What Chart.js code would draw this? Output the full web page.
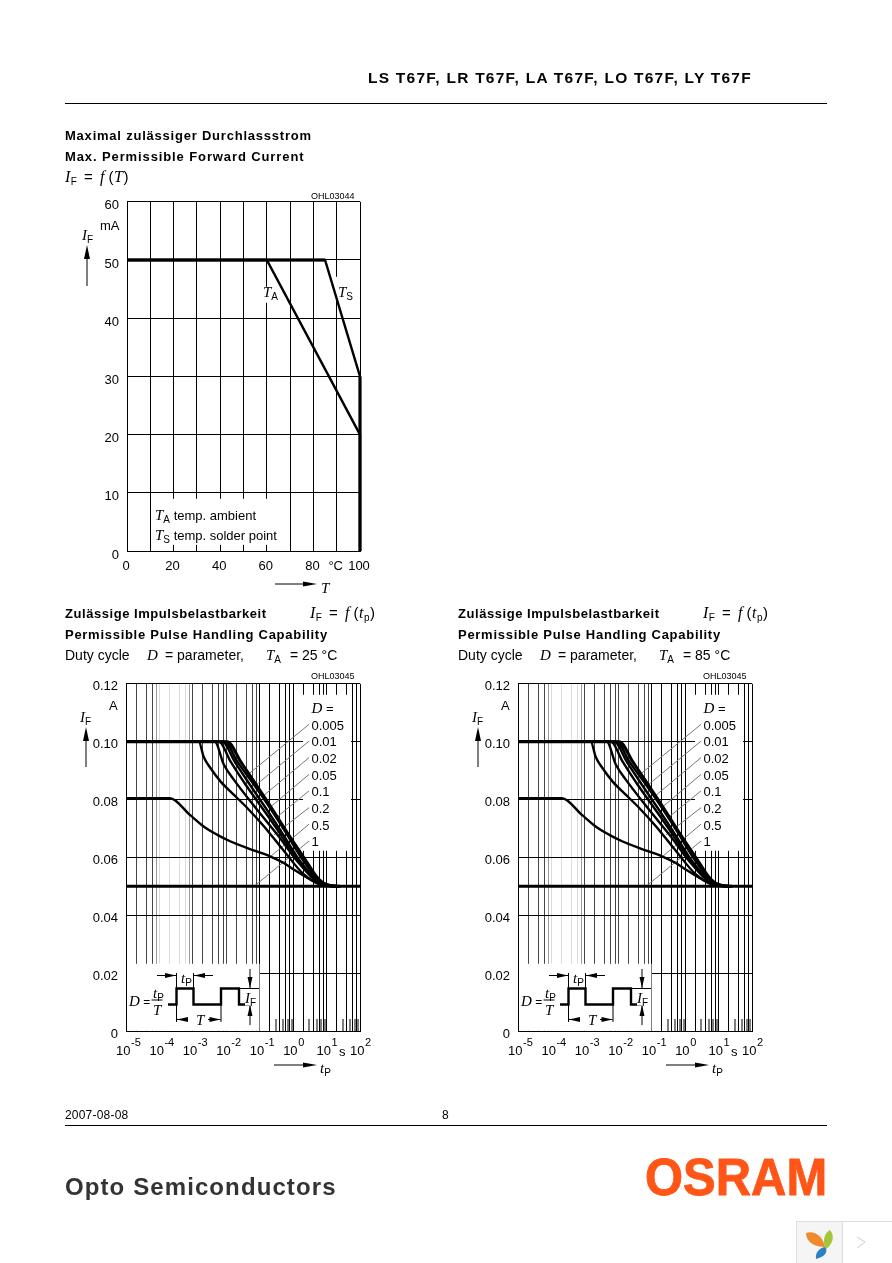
<!DOCTYPE html>
<html>
<head>
<meta charset="utf-8">
<title>LS T67F</title>
<script src="https://cdn.jsdelivr.net/npm/chart.js@4/dist/chart.umd.min.js"></script>
<style>
  html, body { margin: 0; padding: 0; background: #fff; }
  body { position: relative; width: 892px; height: 1263px; overflow: hidden; font-family: "Liberation Sans", Arial, sans-serif; color: #000; }
  canvas, #marks { position: absolute; }
  #marks { left: 0; top: 0; }
  .t { position: absolute; white-space: nowrap; line-height: 1; transform: translateY(-50%); font-size: 13px; }
  .b { font-weight: bold; }
  .t i { font-family: "Liberation Serif", serif; font-style: italic; font-size: 15px; }
  .t sub { font-size: 10px; line-height: 0; vertical-align: -3px; }
  .eq { word-spacing: 2px; letter-spacing: .5px; font-size: 15px; }
  .eq i { font-size: 16px; }
</style>
</head>
<body>
<canvas id="chart-temp" width="285" height="394" style="left:95px;top:186px"></canvas>
<canvas id="chart-pulse-25" width="292" height="396" style="left:88px;top:668px"></canvas>
<canvas id="chart-pulse-85" width="292" height="396" style="left:480px;top:668px"></canvas>
<svg id="marks" width="892" height="1263"></svg>

<script>
'use strict';

/* Forward current vs temperature */
const tempTicks = [0, 10, 20, 30, 40, 50, 60, 70, 80, 90, 100];
const tempTickLabels = ['0', '', '20', '', '40', '', '60', '', '80', '°C', '100'];
const currentTicks = [0, 10, 20, 30, 40, 50, 60];
const ambientT = [0, 60, 100, 100];
const ambientI = [50, 50, 20, 0];
const solderT = [0, 85, 100, 100];
const solderI = [50, 50, 30, 0];
const flatT = [0, 85];
const flatI = [50, 50];
const edgeT = [100, 100];
const edgeI = [30, 0];

/* Pulse handling: grid and ticks */
const pulseDecades = [1e-5, 1e-4, 1e-3, 1e-2, 1e-1, 1, 10, 100];
const pulseExponents = ['-5', '-4', '-3', '-2', '-1', '0', '1', '2'];
const pulseGridTimes = [
  1e-5, 2e-5, 4e-5, 6e-5, 8e-5, 1e-4, 2e-4, 4e-4, 6e-4, 8e-4,
  1e-3, 2e-3, 4e-3, 6e-3, 8e-3, 1e-2, 2e-2, 4e-2, 6e-2, 8e-2,
  1e-1, 2e-1, 4e-1, 6e-1, 8e-1, 1, 2, 4, 6, 8, 10, 20, 40, 60, 80, 100
];
const pulseOddTimes = [3e-1, 5e-1, 7e-1, 9e-1, 3, 5, 7, 9, 30, 50, 70, 90];
const pulseTicks = [0, 0.02, 0.04, 0.06, 0.08, 0.10, 0.12];
const pulseTickLabels = ['0', '0.02', '0.04', '0.06', '0.08', '0.10', '0.12'];

/* Pulse handling: one curve per duty cycle */
const d005T = [1e-5, 0.0107, 0.027, 0.068, 0.17, 0.68, 2.14, 6.0, 13.5, 25];
const d005I = [0.1, 0.1, 0.0931, 0.0862, 0.0793, 0.0684, 0.0598, 0.0523, 0.0502, 0.05];
const d01T = [1e-5, 0.0089, 0.0214, 0.0575, 0.151, 0.575, 1.78, 5.6, 11.2, 25];
const d01I = [0.1, 0.1, 0.0931, 0.0862, 0.0793, 0.069, 0.0598, 0.0523, 0.0503, 0.05];
const d02T = [1e-5, 0.0076, 0.0178, 0.051, 0.141, 0.51, 1.51, 5.1, 10.7, 25];
const d02I = [0.1, 0.1, 0.0931, 0.0851, 0.0776, 0.0678, 0.0592, 0.0523, 0.0503, 0.05];
const d05T = [1e-5, 0.006, 0.0135, 0.038, 0.12, 0.43, 1.2, 4.47, 9.5, 25];
const d05I = [0.1, 0.1, 0.0931, 0.0851, 0.077, 0.0678, 0.0598, 0.0529, 0.0506, 0.05];
const d1T = [1e-5, 0.0045, 0.0085, 0.017, 0.085, 0.34, 1.35, 4.3, 8.5, 25];
const d1I = [0.1, 0.1, 0.092, 0.0868, 0.0764, 0.0678, 0.0586, 0.0523, 0.0506, 0.05];
const d2T = [1e-5, 0.0015, 0.0021, 0.0034, 0.0068, 0.017, 0.043, 0.135, 0.54, 2.14, 6.8, 16];
const d2I = [0.1, 0.1, 0.0948, 0.0908, 0.0862, 0.0816, 0.077, 0.0707, 0.0621, 0.054, 0.0506, 0.05];
const d5T = [1e-5, 0.0002, 0.00085, 0.0021, 0.0054, 0.0135, 0.043, 0.21, 0.54, 1.07, 2.7, 6, 10.7, 27];
const d5I = [0.0805, 0.0805, 0.0745, 0.0707, 0.0678, 0.0655, 0.0632, 0.0603, 0.058, 0.0557, 0.0529, 0.0508, 0.0502, 0.05];
const dFullT = [1e-5, 100];
const dFullI = [0.05, 0.05];

/* Thin leaders from the curves to the D labels */
const leaderT = [[0.043, 3], [0.068, 3], [0.12, 3], [0.19, 3], [0.30, 3], [0.27, 3], [0.21, 3], [0.068, 3]];
const leaderI = [[0.0885, 0.106], [0.0845, 0.1002], [0.081, 0.0945], [0.077, 0.0887], [0.0736, 0.083], [0.0678, 0.0772], [0.0603, 0.0715], [0.05, 0.0657]];
const dutyLabels = ['0.005', '0.01', '0.02', '0.05', '0.1', '0.2', '0.5', '1'];

function zip(xs, ys) {
  return xs.map((x, i) => ({ x: x, y: ys[i] }));
}

function lineSet(xs, ys, width, extra) {
  return Object.assign({
    data: zip(xs, ys), borderColor: '#000', borderWidth: width,
    pointRadius: 0, fill: false, clip: false, tension: 0, order: 1
  }, extra || {});
}

/* white areas behind the notes, then the short ticks; both sit under the curves */
const notesPlugin = {
  id: 'notes',
  beforeDatasetsDraw(chart, args, opts) {
    const c = chart.ctx, a = chart.chartArea;
    c.save();
    c.fillStyle = '#fff';
    (opts.masks || []).forEach(m => {
      c.fillRect(a.left + m[0], a.top + m[1], m[2], m[3]);
    });
    c.fillStyle = '#000';
    (opts.stubs || []).forEach(v => {
      const x = Math.round(chart.scales.x.getPixelForValue(v)) - 0.5;
      c.fillRect(x, a.bottom - 12, 1, 12);
    });
    c.restore();
  },
  afterDraw(chart, args, opts) {
    if (!opts.decades) return;
    const c = chart.ctx, a = chart.chartArea;
    c.save();
    c.fillStyle = '#000';
    c.textAlign = 'left';
    c.textBaseline = 'alphabetic';
    opts.decades.forEach((v, i) => {
      const x = chart.scales.x.getPixelForValue(v) - 10;
      c.font = '13px "Liberation Sans"';
      c.fillText('10', x, a.bottom + 24);
      c.font = '11px "Liberation Sans"';
      c.fillText(pulseExponents[i], x + 15, a.bottom + 15);
    });
    c.restore();
  }
};
Chart.register(notesPlugin);

const tickFont = { family: '"Liberation Sans"', size: 13 };

function baseOptions(right, top) {
  return {
    responsive: false,
    animation: false,
    devicePixelRatio: 1,
    layout: { padding: { right: right, top: top, left: 0, bottom: 0 } },
    plugins: { legend: { display: false }, tooltip: { enabled: false } }
  };
}

function initTempChart() {
  const opts = baseOptions(20, 11);
  opts.plugins.notes = {
    /* relative to the plot area */
    masks: [[25, 297, 136, 46], [136, 85, 17, 16], [207, 75, 18, 23]]
  };
  opts.scales = {
    x: {
      type: 'linear', min: 0, max: 100,
      afterBuildTicks: s => { s.ticks = tempTicks.map(v => ({ value: v })); },
      afterFit: s => { s.height = 29; },
      grid: { color: '#000', lineWidth: 1, drawTicks: false },
      border: { color: '#000' },
      ticks: {
        color: '#000', font: tickFont, padding: 8, maxRotation: 0, autoSkip: false, labelOffset: -1,
        callback: (v, i) => tempTickLabels[i]
      }
    },
    y: {
      type: 'linear', min: 0, max: 60,
      afterBuildTicks: s => { s.ticks = currentTicks.map(v => ({ value: v })); },
      afterFit: s => { s.width = 32; },
      grid: { color: '#000', lineWidth: 1, drawTicks: false },
      border: { color: '#000' },
      ticks: { color: '#000', font: tickFont, padding: 8, labelOffset: 4, autoSkip: false }
    }
  };
  return new Chart(document.getElementById('chart-temp'), {
    type: 'line',
    data: {
      datasets: [
        lineSet(ambientT, ambientI, 2.4),
        lineSet(solderT, solderI, 2.4),
        lineSet(flatT, flatI, 3),
        lineSet(edgeT, edgeI, 3)
      ]
    },
    options: opts
  });
}

function pulseGridColor(v) {
  if (v >= 0.09) return '#000';
  if (v >= 9e-5 && v < 7e-4) return '#dcdcdc';
  if ((v > 7e-5 && v < 9e-5) || (v > 7e-4 && v < 9e-4)) return '#999';
  return '#444';
}

function initPulseChart(id) {
  const opts = baseOptions(20, 11);
  opts.plugins.notes = {
    masks: [[1, 280, 132.5, 67], [177, 11, 48, 156]],
    stubs: pulseOddTimes,
    decades: pulseDecades
  };
  opts.scales = {
    x: {
      type: 'logarithmic', min: 1e-5, max: 100,
      afterBuildTicks: s => { s.ticks = pulseGridTimes.map(v => ({ value: v })); },
      afterFit: s => { s.height = 33; },
      grid: { color: c => pulseGridColor(c.tick.value), lineWidth: 1, drawTicks: false },
      border: { color: '#000' },
      ticks: { display: false }
    },
    y: {
      type: 'linear', min: 0, max: 0.12,
      afterBuildTicks: s => { s.ticks = pulseTicks.map(v => ({ value: v })); },
      afterFit: s => { s.width = 38; },
      grid: { color: '#000', lineWidth: 1, drawTicks: false },
      border: { color: '#000' },
      ticks: {
        color: '#000', font: tickFont, padding: 8, labelOffset: 3, autoSkip: false,
        callback: (v, i) => pulseTickLabels[i]
      }
    }
  };
  const smooth = { cubicInterpolationMode: 'monotone' };
  const leaders = leaderT.map((t, i) => lineSet(t, leaderI[i], 1, { borderColor: '#777', order: 2 }));
  return new Chart(document.getElementById(id), {
    type: 'line',
    data: {
      datasets: leaders.concat([
        lineSet(d005T, d005I, 3, smooth),
        lineSet(d01T, d01I, 2.4, smooth),
        lineSet(d02T, d02I, 2.4, smooth),
        lineSet(d05T, d05I, 2.4, smooth),
        lineSet(d1T, d1I, 2.4, smooth),
        lineSet(d2T, d2I, 2.4, smooth),
        lineSet(d5T, d5I, 2.4, smooth),
        lineSet(dFullT, dFullI, 3)
      ])
    },
    options: opts
  });
}

/* ---- page text ---- */
function txt(x, y, html, cls, style) {
  const el = document.createElement('div');
  el.className = 't ' + (cls || '');
  el.style.left = x + 'px';
  el.style.top = y + 'px';
  if (style) el.style.cssText += style;
  el.innerHTML = html;
  document.body.appendChild(el);
  return el;
}

const IF = '<i>I</i><sub>F</sub>';

/* ---- arrows and pulse sketch ---- */
let svgParts = '';
function seg(x1, y1, x2, y2, w) {
  svgParts += `<line x1="${x1}" y1="${y1}" x2="${x2}" y2="${y2}" stroke="#000" stroke-width="${w || 1}"/>`;
}
function head(tipX, tipY, dirX, dirY, len, half) {
  const bx = tipX - dirX * len, by = tipY - dirY * len;
  svgParts += `<polygon fill="#000" points="${tipX},${tipY} ${bx - dirY * half},${by - dirX * half} ${bx + dirY * half},${by + dirX * half}"/>`;
}

function pulseSketch(dx) {
  const path = [[168, 1004.5], [176.5, 1004.5], [176.5, 988.5], [193.5, 988.5], [193.5, 1004.5], [221, 1004.5], [221, 988.5], [239, 988.5], [239, 1004.5], [249, 1004.5]];
  svgParts += `<polyline fill="none" stroke="#000" stroke-width="2.4" points="${path.map(p => (p[0] + dx) + ',' + p[1]).join(' ')}"/>`;
  seg(176.5 + dx, 973, 176.5 + dx, 988);
  seg(193.5 + dx, 973, 193.5 + dx, 988);
  seg(157 + dx, 975.5, 176 + dx, 975.5);
  head(176 + dx, 975.5, 1, 0, 11, 2.5);
  seg(193.5 + dx, 975.5, 213 + dx, 975.5);
  head(194 + dx, 975.5, -1, 0, 11, 2.5);
  seg(176.5 + dx, 1004, 176.5 + dx, 1022);
  seg(221 + dx, 1004, 221 + dx, 1022);
  seg(177 + dx, 1019.5, 188 + dx, 1019.5);
  head(177 + dx, 1019.5, -1, 0, 11, 2.5);
  seg(208 + dx, 1019.5, 220.5 + dx, 1019.5);
  head(220.5 + dx, 1019.5, 1, 0, 11, 2.5);
  seg(239 + dx, 988.5, 259 + dx, 988.5);
  seg(250 + dx, 969, 250 + dx, 988);
  head(250 + dx, 988, 0, 1, 11, 2.5);
  seg(250 + dx, 1005, 250 + dx, 1025);
  head(250 + dx, 1005, 0, -1, 11, 2.5);
  seg(151.5 + dx, 1000, 162.5 + dx, 1000);
}

function pulseAxisMarks(dx) {
  seg(86 + dx, 740, 86 + dx, 767);
  head(86 + dx, 727, 0, -1, 14, 3);
  seg(274 + dx, 1065, 305 + dx, 1065);
  head(317 + dx, 1065, 1, 0, 14, 2.5);
  pulseSketch(dx);
}

function pulseText(dx, ta) {
  const h = dx ? 393 : 0;
  txt(65 + h, 613, 'Zulässige Impulsbelastbarkeit', 'b', 'letter-spacing:.55px');
  txt(310 + h, 613, IF + ' = <i>f</i>&thinsp;(<i>t</i><sub>p</sub>)', 'eq');
  txt(65 + h, 634, 'Permissible Pulse Handling Capability', 'b', 'letter-spacing:.72px');
  txt(65 + h, 655, 'Duty cycle', '', 'font-size:14px');
  txt(147 + h, 655, '<i>D</i>', '', 'font-size:14px');
  txt(165 + h, 655, '= parameter,', '', 'font-size:14px');
  txt(266 + h, 655, '<i>T</i><sub>A</sub>', '', 'font-size:14px');
  txt(290 + h, 655, '= ' + ta + ' °C', '', 'font-size:14px');
  txt(311 + dx, 676, 'OHL03045', '', 'font-size:9px');
  txt(80 + dx, 717, IF, '');
  txt(109 + dx, 705, 'A', '');
  txt(311.5 + dx, 708, '<i>D</i> =', '');
  dutyLabels.forEach((d, i) => txt(311.5 + dx, 724.5 + i * 16.7, d, ''));
  txt(339 + dx, 1051, 's', '');
  txt(320 + dx, 1068, '<i>t</i><sub>P</sub>', '');
  /* duty formula inside the sketch */
  txt(129 + dx, 1001, '<i>D</i> =', '', 'font-size:12px');
  txt(153 + dx, 993, '<i>t</i><sub>P</sub>', '', 'font-size:11px');
  txt(153 + dx, 1010, '<i>T</i>', '');
  txt(181 + dx, 978, '<i>t</i><sub>P</sub>', '');
  txt(195 + dx, 1020, '<i>T</i>', '', 'background:#fff;padding:0 1px');
  txt(245 + dx, 998, IF, '', 'background:#fff');
}

function drawPage() {
  txt(368, 78, 'LS T67F, LR T67F, LA T67F, LO T67F, LY T67F', 'b', 'font-size:15.5px;letter-spacing:1.25px');
  txt(65, 135, 'Maximal zulässiger Durchlassstrom', 'b', 'letter-spacing:.78px');
  txt(65, 156, 'Max. Permissible Forward Current', 'b', 'letter-spacing:.89px');
  txt(65, 177, IF + ' = <i>f</i>&thinsp;(<i>T</i>)', 'eq');
  txt(311, 196, 'OHL03044', '', 'font-size:9px');
  txt(82, 235, IF, '');
  txt(100, 225, 'mA', '');
  txt(263, 292, '<i>T</i><sub>A</sub>', '');
  txt(338, 292, '<i>T</i><sub>S</sub>', '');
  txt(155, 515, '<i>T</i><sub>A</sub> temp. ambient', '');
  txt(155, 535, '<i>T</i><sub>S</sub> temp. solder point', '');
  txt(321, 588, '<i>T</i>', '');
  seg(87, 258, 87, 286);
  head(87, 245, 0, -1, 14, 3);
  seg(275, 584, 304, 584);
  head(317, 584, 1, 0, 14, 2.5);

  pulseText(0, '25');
  pulseText(392, '85');
  pulseAxisMarks(0);
  pulseAxisMarks(392);

  /* rules and footer */
  seg(65, 103.5, 827, 103.5);
  seg(65, 1125.5, 827, 1125.5);
  txt(65, 1115, '2007-08-08', '', 'font-size:12px;letter-spacing:.2px');
  txt(442, 1115, '8', '', 'font-size:12px');
  txt(65, 1187, 'Opto Semiconductors', 'b', 'font-size:24px;color:#333;letter-spacing:1.1px');
  txt(645, 1177, 'OSRAM', 'b', 'font-size:51px;color:#ff5517;font-kerning:none;-webkit-text-stroke:.8px #ff5517;transform-origin:left center;transform:translateY(-50%) scaleX(.96)');

  /* viewer badge in the corner */
  svgParts += '<rect x="796.5" y="1221.5" width="46" height="42" fill="#f5f5f5" stroke="#ddd"/>'
    + '<rect x="842.5" y="1221.5" width="60" height="42" fill="#fff" stroke="#ddd"/>'
    + '<polyline points="857,1237 865,1242 857,1248" fill="none" stroke="#ccc" stroke-width="1"/>'
    + '<path d="M806,1233 C814,1230 823,1236 825,1247 C816,1247 806,1243 806,1233 Z" fill="#f08a2c"/>'
    + '<path d="M830,1230 C835,1236 833,1244 826,1249 C822,1242 824,1233 830,1230 Z" fill="#a5c63b"/>'
    + '<path d="M825,1247 C829,1252 824,1257 816,1259 C815,1253 819,1248 825,1247 Z" fill="#2e7fc2"/>';

  document.getElementById('marks').innerHTML = svgParts;
}

initTempChart();
initPulseChart('chart-pulse-25');
initPulseChart('chart-pulse-85');
drawPage();
</script>
</body>
</html>
